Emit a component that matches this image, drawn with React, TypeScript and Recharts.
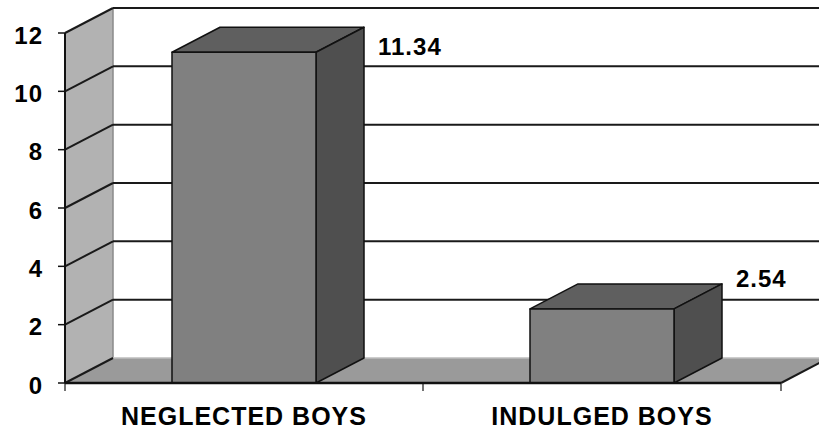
import { BarChart, Bar, XAxis, YAxis, CartesianGrid, LabelList } from "recharts";

const categories = ["NEGLECTED BOYS", "INDULGED BOYS"];
const values = [11.34, 2.54];
const yTicks = [0, 2, 4, 6, 8, 10, 12];

const data = categories.map((name, i) => ({ name, value: values[i] }));

// depth of the fake 3D (walls and bars)
const DX = 48;
const DY = -25;
const TOP = 33;
const FONT = "'Liberation Sans', Arial, sans-serif";

function GridLine(props: any) {
  const { x1, y1, x2, index, x, y, width, height } = props;
  const top = y;
  const bottom = y + height;
  const left = x;
  const right = x + width;
  const isBottom = Math.abs(y1 - bottom) < 0.5;
  const n = categories.length;
  return (
    <g>
      {index === 0 && (
        <g>
          <polygon
            points={`${left + DX},${top + DY} ${right + DX + 40},${top + DY} ${right + DX + 40},${bottom + DY} ${left + DX},${bottom + DY}`}
            fill="#ffffff"
          />
          <polygon
            points={`${left},${bottom} ${left},${top} ${left + DX},${top + DY} ${left + DX},${bottom + DY}`}
            fill="#b2b2b2"
          />
          <line x1={left + DX} y1={top + DY} x2={left + DX} y2={bottom + DY} stroke="#8a8a8a" strokeWidth={1.5} />
          <polygon
            points={`${left},${bottom} ${left + DX},${bottom + DY} ${right + DX},${bottom + DY} ${right},${bottom}`}
            fill="#9a9a9a"
          />
          <line x1={left + DX} y1={bottom + DY} x2={right + DX + 40} y2={bottom + DY} stroke="#bdbdbd" strokeWidth={1.5} />
          <line x1={right} y1={bottom} x2={right + DX} y2={bottom + DY} stroke="#1a1a1a" strokeWidth={2} />
          {Array.from({ length: n + 1 }, (_, i) => {
            const bx = left + (i * width) / n;
            return <line key={i} x1={bx} y1={bottom} x2={bx} y2={bottom + 8} stroke="#444" strokeWidth={1.5} />;
          })}
        </g>
      )}
      <line x1={x1} y1={y1} x2={x1 + DX} y2={y1 + DY} stroke="#1a1a1a" strokeWidth={2} />
      {!isBottom && (
        <line x1={x1 + DX} y1={y1 + DY} x2={x2 + DX + 40} y2={y1 + DY} stroke="#1a1a1a" strokeWidth={2} />
      )}
    </g>
  );
}

function Bar3D(props: any) {
  const { x, y, width, height } = props;
  const bottom = y + height;
  return (
    <g stroke="#111" strokeWidth={1.5} strokeLinejoin="round">
      <polygon
        points={`${x},${y} ${x + DX},${y + DY} ${x + width + DX},${y + DY} ${x + width},${y}`}
        fill="#5f5f5f"
      />
      <polygon
        points={`${x + width},${y} ${x + width + DX},${y + DY} ${x + width + DX},${bottom + DY} ${x + width},${bottom}`}
        fill="#4f4f4f"
      />
      <rect x={x} y={y} width={width} height={height} fill="#808080" />
    </g>
  );
}

function ValueLabel(props: any) {
  const { x, y, width, value } = props;
  const cy = Math.max(y + DY - 5, TOP + 13);
  return (
    <text
      x={x + width + DX + 14}
      y={cy}
      dominantBaseline="central"
      fontFamily={FONT}
      fontWeight="bold"
      fontSize={24}
      letterSpacing={1}
      fill="#000"
    >
      {value}
    </text>
  );
}

function YTick(props: any) {
  const { x, y, payload } = props;
  return (
    <text x={x} y={y + 2} textAnchor="end" dominantBaseline="central" fontFamily={FONT} fontWeight="bold" fontSize={24} letterSpacing={1} fill="#000">
      {payload.value}
    </text>
  );
}

function XTick(props: any) {
  const { x, y, payload } = props;
  return (
    <text x={x} y={y} dy="0.72em" textAnchor="middle" fontFamily={FONT} fontWeight="bold" fontSize={25} letterSpacing={1} fill="#000">
      {payload.value}
    </text>
  );
}

export default function App() {
  return (
    <div style={{ width: 819, height: 430, background: "#fff" }}>
      <style>{"body{margin:0}"}</style>
      <BarChart width={819} height={430} data={data} margin={{ top: TOP, right: 38, bottom: 0, left: 0 }}>
        <CartesianGrid vertical={false} horizontal={(p: any) => <GridLine {...p} />} />
        <XAxis
          dataKey="name"
          interval={0}
          height={47}
          tickLine={false}
          tickSize={0}
          tickMargin={24}
          axisLine={{ stroke: "#111", strokeWidth: 2.5 }}
          tick={<XTick />}
        />
        <YAxis
          domain={[0, 12]}
          ticks={yTicks}
          width={65}
          tickSize={7}
          tickMargin={15}
          axisLine={{ stroke: "#111", strokeWidth: 2 }}
          tickLine={{ stroke: "#111", strokeWidth: 1.5 }}
          tick={<YTick />}
        />
        <Bar dataKey="value" barSize={144} shape={<Bar3D />} isAnimationActive={false}>
          <LabelList dataKey="value" content={<ValueLabel />} />
        </Bar>
      </BarChart>
    </div>
  );
}
